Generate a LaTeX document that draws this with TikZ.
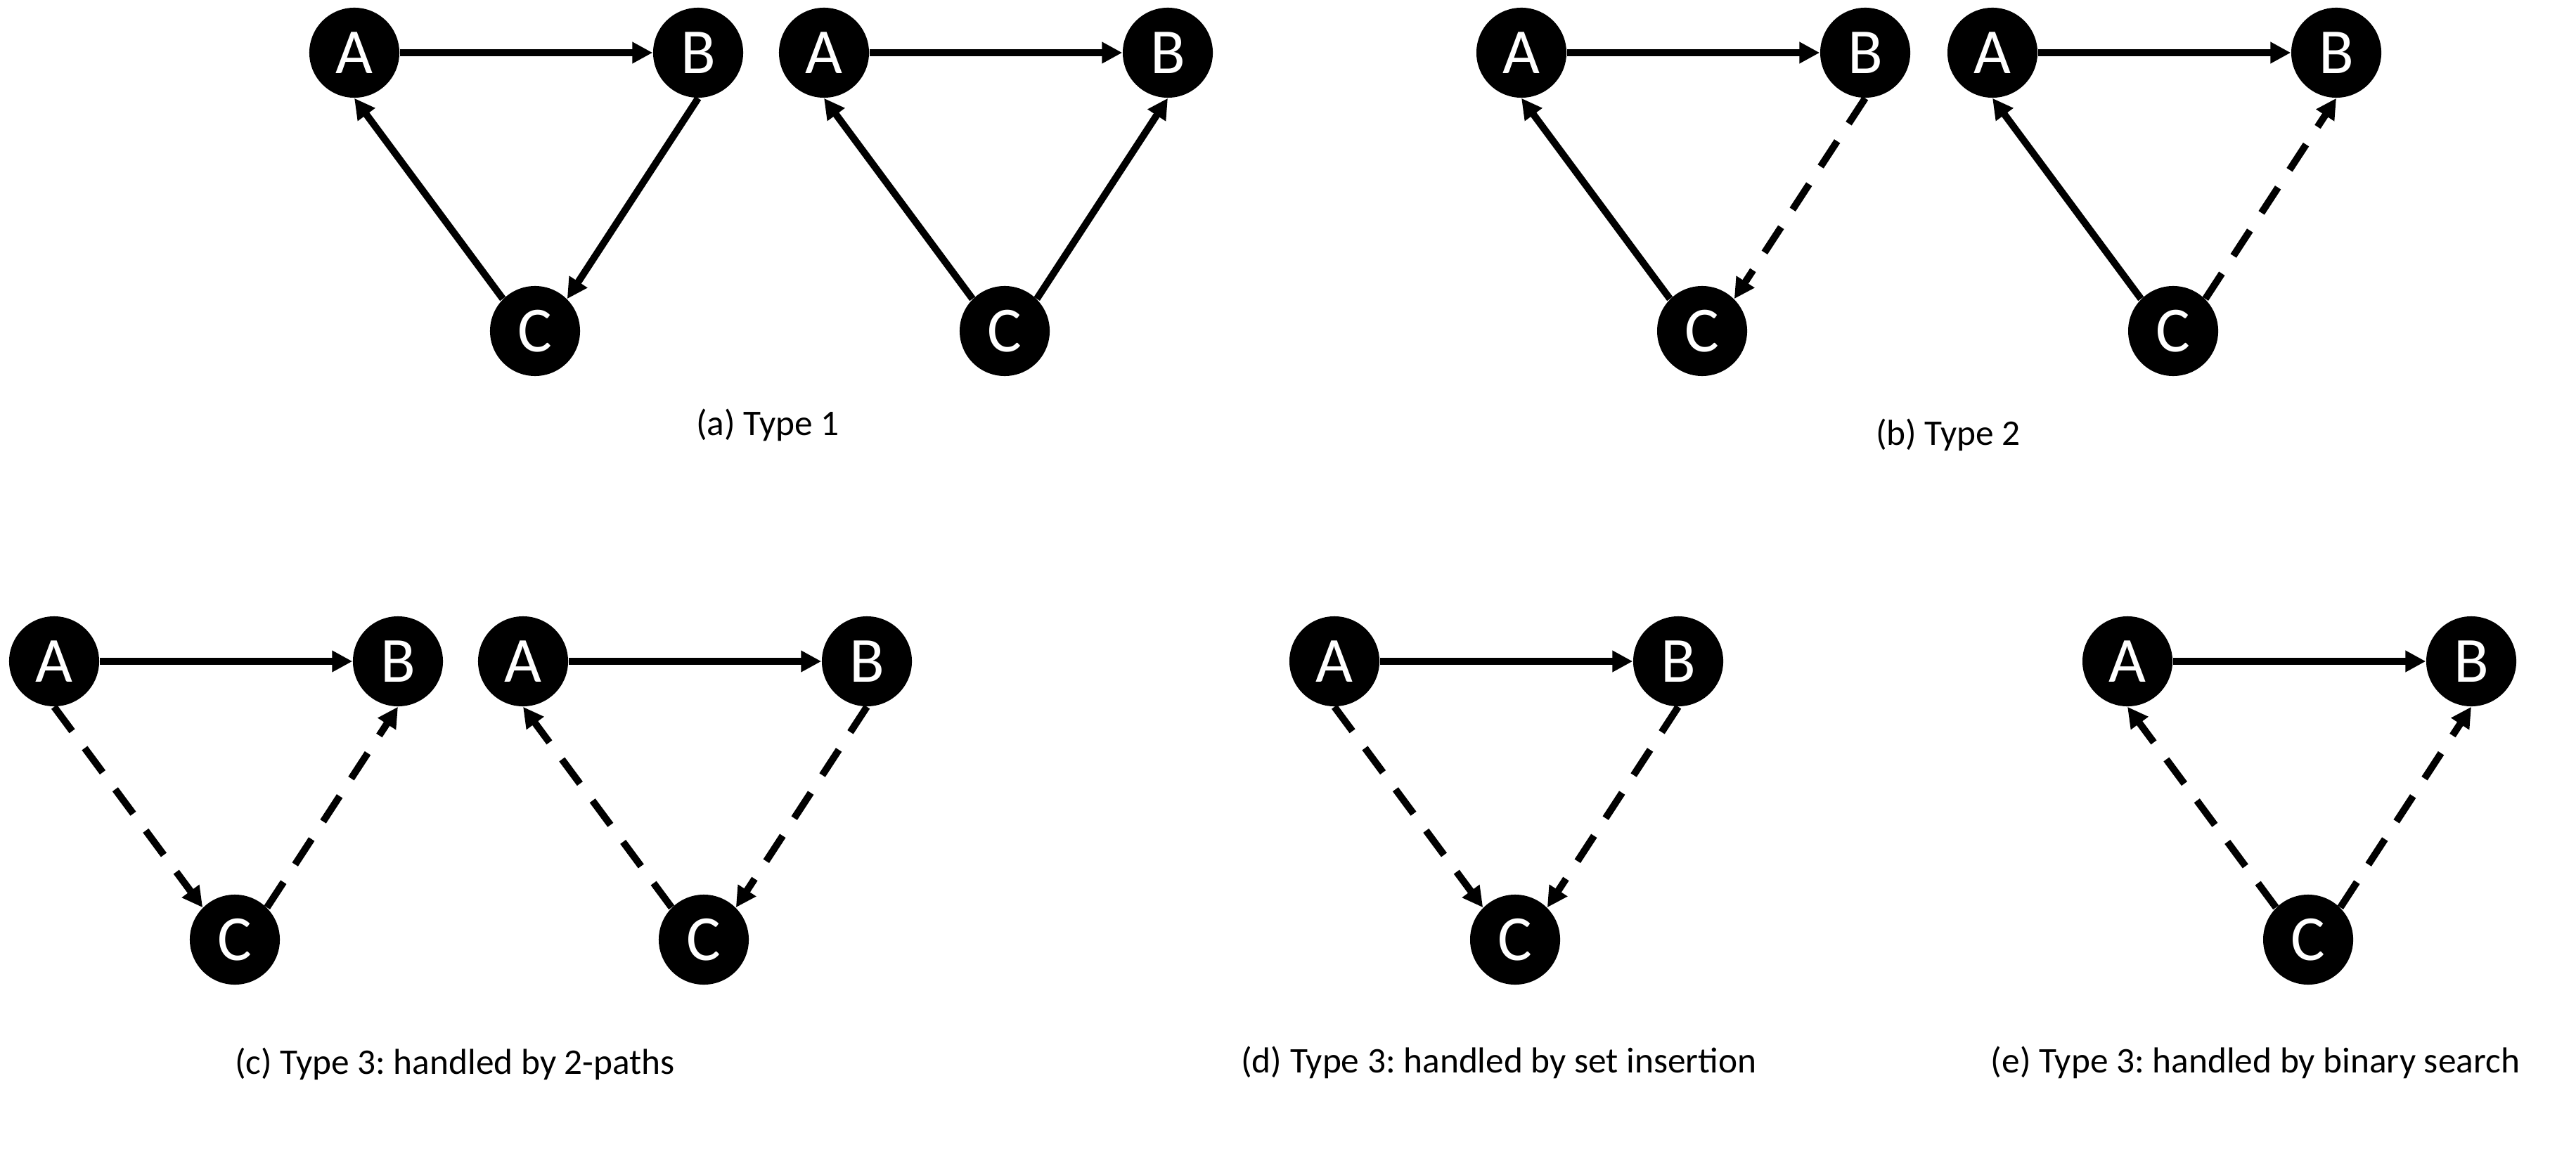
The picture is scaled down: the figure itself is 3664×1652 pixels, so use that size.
\documentclass[tikz,border=0pt]{standalone}
\usepackage{fontspec}
\setmainfont{Carlito}
\usetikzlibrary{arrows.meta}
\frenchspacing

\tikzset{
	vert/.style = {circle, fill=black, text=white, inner sep=0pt,
		minimum size=1.28cm, font=\fontsize{26}{30}\selectfont},
	edge/.style = {line width=1mm, -{Triangle[length=2.9mm, width=2.9mm]}},
	dashedge/.style = {edge, dash pattern=on 4.3mm off 3mm},
	caption/.style = {anchor=base, font=\fontsize{14.6}{17}\selectfont}
}

\begin{document}
\begin{tikzpicture}[x=0.01cm, y=-0.01cm]
	\useasboundingbox (0,0) rectangle (3664,1652);
	% vertices of the eight triangles
	\foreach \g/\x/\y in {a1/504/75, a2/1172/75, b1/2164/75, b2/2834/75,
		c1/77/941, c2/744/941, d/1898/941, e/3026/941} {
		\node[vert] (A\g) at (\x,\y) {A};
		\node[vert] (B\g) at (\x+489,\y) {B};
		\node[vert] (C\g) at (\x+257,\y+396) {C};
		\draw[edge] (A\g.east) -- (B\g.west);
	}
	% (a)
	\draw[edge] (Ca1.north west) -- (Aa1.south);
	\draw[edge] (Ba1.south) -- (Ca1.north east);
	\draw[edge] (Ca2.north west) -- (Aa2.south);
	\draw[edge] (Ca2.north east) -- (Ba2.south);
	% (b)
	\draw[edge] (Cb1.north west) -- (Ab1.south);
	\draw[dashedge] (Bb1.south) -- (Cb1.north east);
	\draw[edge] (Cb2.north west) -- (Ab2.south);
	\draw[dashedge] (Cb2.north east) -- (Bb2.south);
	% (c)
	\draw[dashedge] (Ac1.south) -- (Cc1.north west);
	\draw[dashedge] (Cc1.north east) -- (Bc1.south);
	\draw[dashedge] (Cc2.north west) -- (Ac2.south);
	\draw[dashedge] (Bc2.south) -- (Cc2.north east);
	% (d)
	\draw[dashedge] (Ad.south) -- (Cd.north west);
	\draw[dashedge] (Bd.south) -- (Cd.north east);
	% (e)
	\draw[dashedge] (Ce.north west) -- (Ae.south);
	\draw[dashedge] (Ce.north east) -- (Be.south);

	\node[caption] (capa) at (1092,619) {(a) Type 1};
	\node[caption] (capb) at (2771,633) {(b) Type 2};
	\node[caption] (capc) at (647,1528) {(c) Type 3: handled by 2-paths};
	\node[caption] (capd) at (2132,1526) {(d) Type 3: handled by set insertion};
	\node[caption] (cape) at (3208,1526) {(e) Type 3: handled by binary search};
\end{tikzpicture}
\end{document}
